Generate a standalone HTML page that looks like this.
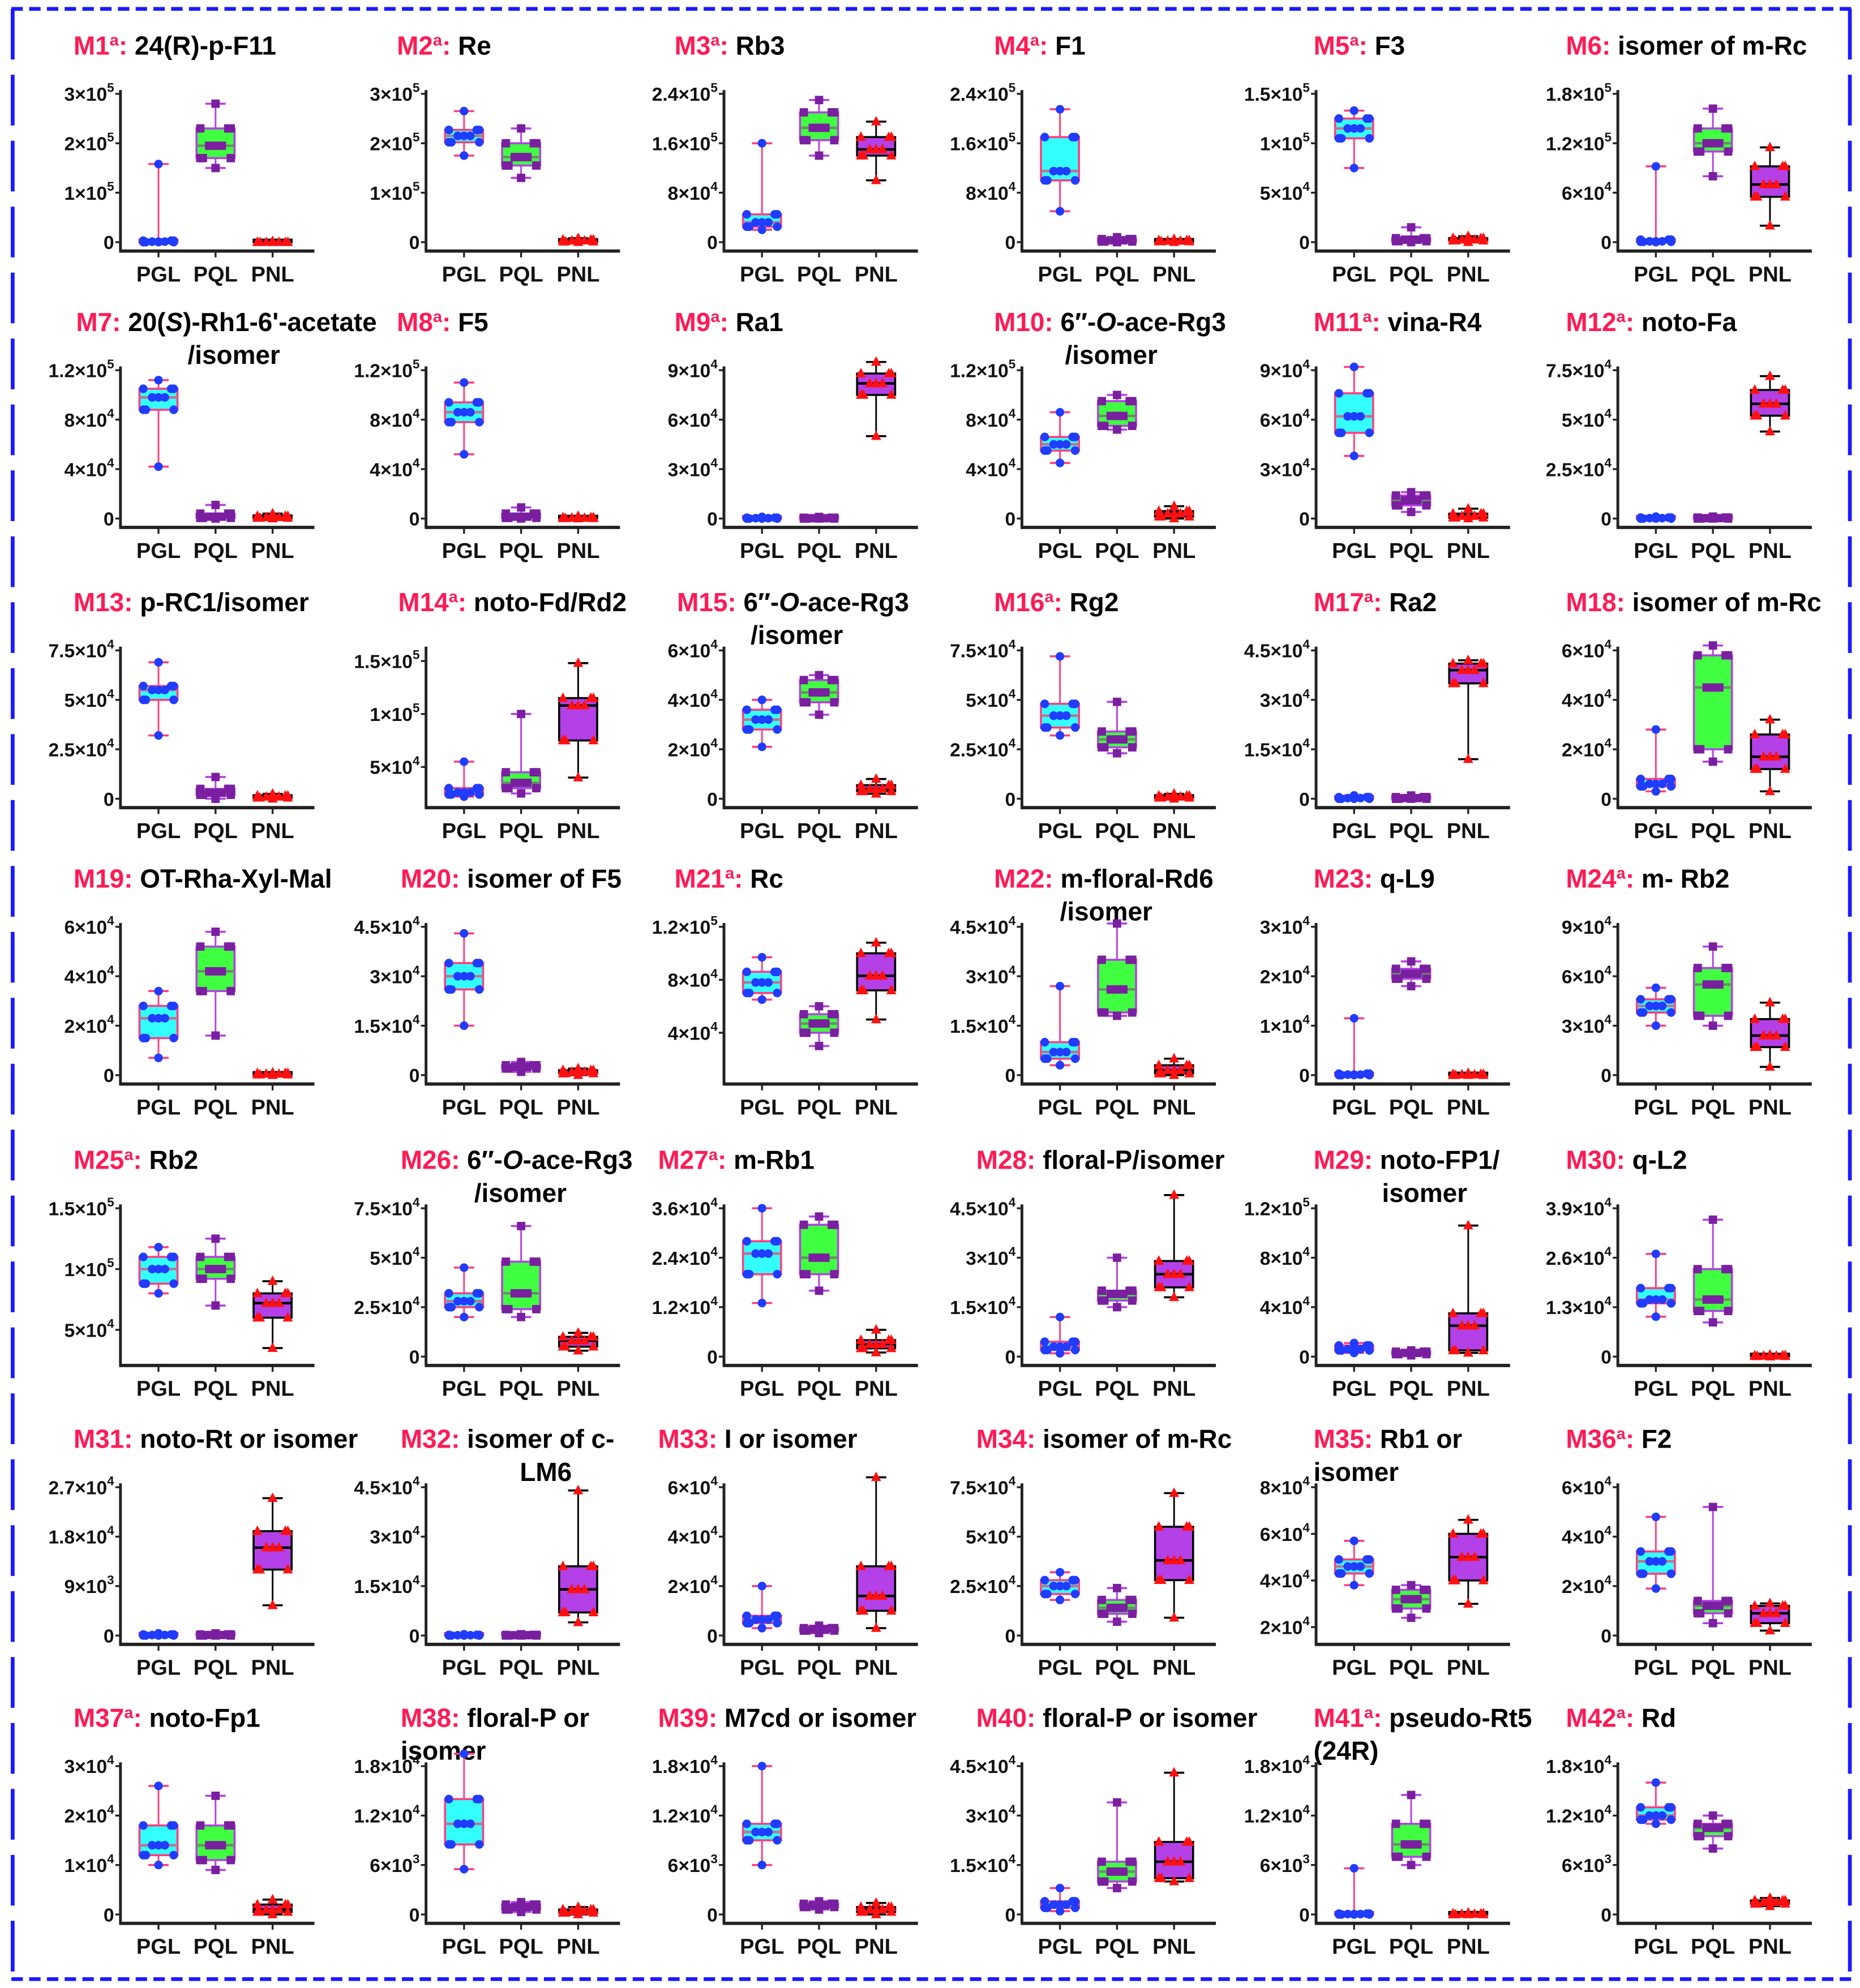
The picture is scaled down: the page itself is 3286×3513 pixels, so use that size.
<!DOCTYPE html>
<html><head><meta charset="utf-8">
<style>
html,body{margin:0;padding:0;background:#fff;}
svg{display:block;font-family:"Liberation Sans",sans-serif;}
</style></head>
<body>
<svg id="fig" xmlns="http://www.w3.org/2000/svg" width="3286" height="3513" viewBox="0 0 1467 1568" preserveAspectRatio="none">
<rect x="0" y="0" width="1467" height="1568" fill="#fff"/>
<line x1="9" y1="7" x2="1460" y2="7" stroke="#1a1aff" stroke-width="3" stroke-dasharray="9 5"/>
<line x1="9" y1="1561" x2="1460" y2="1561" stroke="#1a1aff" stroke-width="3" stroke-dasharray="9 5"/>
<line x1="10" y1="7" x2="10" y2="1561" stroke="#1a1aff" stroke-width="3" stroke-dasharray="40 12"/>
<line x1="1459" y1="7" x2="1459" y2="1561" stroke="#1a1aff" stroke-width="3" stroke-dasharray="40 12"/>
</svg>
<script>
const categories = ['PGL','PQL','PNL'];
const panelIds = ['M1','M2','M3','M4','M5','M6','M7','M8','M9','M10','M11','M12','M13','M14','M15','M16','M17','M18','M19','M20','M21','M22','M23','M24','M25','M26','M27','M28','M29','M30','M31','M32','M33','M34','M35','M36','M37','M38','M39','M40','M41','M42'];
const supA = [1,1,1,1,1,0,0,1,1,0,1,1,0,1,0,1,1,0,0,0,1,0,0,1,1,0,1,0,0,0,0,0,0,0,0,1,1,0,0,0,1,1];
const titleLine1 = ['24(R)-p-F11','Re','Rb3','F1','F3','isomer of m-Rc','20(<i>S</i>)-Rh1-6\'-acetate','F5','Ra1','6″-<i>O</i>-ace-Rg3','vina-R4','noto-Fa','p-RC1/isomer','noto-Fd/Rd2','6″-<i>O</i>-ace-Rg3','Rg2','Ra2','isomer of m-Rc','OT-Rha-Xyl-Mal','isomer of F5','Rc','m-floral-Rd6','q-L9','m- Rb2','Rb2','6″-<i>O</i>-ace-Rg3','m-Rb1','floral-P/isomer','noto-FP1/','q-L2','noto-Rt or isomer','isomer of c-','I or isomer','isomer of m-Rc','Rb1 or','F2','noto-Fp1','floral-P or','M7cd or isomer','floral-P or isomer','pseudo-Rt5','Rd'];
const titleLine2 = ['','','','','','','/isomer','','','/isomer','','','','','/isomer','','','','','','','/isomer','','','','/isomer','','','isomer','','','LM6','','','isomer','','','isomer','','','(24R)',''];
const line2X = [0,0,0,0,0,0,148,0,0,840,0,0,0,0,592,0,0,0,0,0,0,836,0,0,0,374,0,0,1090,0,0,410,0,0,1036,0,0,316,0,0,1036,0];
const panelTicks = [
[0,1e5,2e5,3e5],[0,1e5,2e5,3e5],[0,8e4,1.6e5,2.4e5],[0,8e4,1.6e5,2.4e5],[0,5e4,1e5,1.5e5],[0,6e4,1.2e5,1.8e5],
[0,4e4,8e4,1.2e5],[0,4e4,8e4,1.2e5],[0,3e4,6e4,9e4],[0,4e4,8e4,1.2e5],[0,3e4,6e4,9e4],[0,2.5e4,5e4,7.5e4],
[0,2.5e4,5e4,7.5e4],[5e4,1e5,1.5e5],[0,2e4,4e4,6e4],[0,2.5e4,5e4,7.5e4],[0,1.5e4,3e4,4.5e4],[0,2e4,4e4,6e4],
[0,2e4,4e4,6e4],[0,1.5e4,3e4,4.5e4],[4e4,8e4,1.2e5],[0,1.5e4,3e4,4.5e4],[0,1e4,2e4,3e4],[0,3e4,6e4,9e4],
[5e4,1e5,1.5e5],[0,2.5e4,5e4,7.5e4],[0,1.2e4,2.4e4,3.6e4],[0,1.5e4,3e4,4.5e4],[0,4e4,8e4,1.2e5],[0,1.3e4,2.6e4,3.9e4],
[0,9e3,1.8e4,2.7e4],[0,1.5e4,3e4,4.5e4],[0,2e4,4e4,6e4],[0,2.5e4,5e4,7.5e4],[2e4,4e4,6e4,8e4],[0,2e4,4e4,6e4],
[0,1e4,2e4,3e4],[0,6e3,1.2e4,1.8e4],[0,6e3,1.2e4,1.8e4],[0,1.5e4,3e4,4.5e4],[0,6e3,1.2e4,1.8e4],[0,6e3,1.2e4,1.8e4]];
// axis domain overrides [lo, hi] where the lowest tick is not at the axis bottom
const axisDomains = {13:[2e4,1.6e5],20:[8e3,1.2e5],24:[2.8e4,1.5e5],34:[1.64e4,8e4]};
// [min, q1, median, q3, max]
const pglStats = [
[0,0,1000,3000,1.58e5],[1.75e5,2.02e5,2.15e5,2.27e5,2.65e5],[2e4,2.5e4,3.2e4,4.5e4,1.6e5],[5e4,1e5,1.15e5,1.7e5,2.15e5],[7.5e4,1.05e5,1.15e5,1.25e5,1.33e5],[0,500,1000,3000,9.2e4],
[4.2e4,8.8e4,9.8e4,1.05e5,1.12e5],[5.2e4,7.8e4,8.6e4,9.4e4,1.1e5],[0,0,200,500,1000],[4.5e4,5.5e4,6e4,6.6e4,8.6e4],[3.8e4,5.2e4,6.2e4,7.6e4,9.2e4],[0,0,200,500,1000],
[3.2e4,5e4,5.5e4,5.7e4,6.9e4],[2.2e4,2.4e4,2.6e4,3e4,5.5e4],[2.1e4,2.8e4,3.2e4,3.6e4,4e4],[3.2e4,3.6e4,4.2e4,4.8e4,7.2e4],[0,0,200,500,1000],[3000,5000,6000,8000,2.8e4],
[7000,1.5e4,2.3e4,2.8e4,3.4e4],[1.5e4,2.6e4,3e4,3.4e4,4.3e4],[6.5e4,7e4,7.8e4,8.6e4,9.7e4],[3000,5000,7000,1e4,2.7e4],[0,0,100,300,1.15e4],[3e4,3.8e4,4.2e4,4.6e4,5.3e4],
[8e4,8.8e4,1e5,1.1e5,1.18e5],[2e4,2.5e4,2.8e4,3.2e4,4.5e4],[1.3e4,2e4,2.5e4,2.8e4,3.6e4],[1000,2000,3000,4500,1.2e4],[3000,5000,6000,9000,1.1e4],[1.05e4,1.4e4,1.5e4,1.8e4,2.7e4],
[0,0,100,200,400],[0,0,100,200,400],[3000,5000,6500,8000,2e4],[1.8e4,2.1e4,2.5e4,2.8e4,3.2e4],[3.8e4,4.3e4,4.6e4,4.9e4,5.7e4],[1.9e4,2.5e4,3e4,3.4e4,4.8e4],
[1e4,1.2e4,1.4e4,1.8e4,2.6e4],[5500,8500,1.1e4,1.4e4,1.95e4],[6000,9000,1e4,1.1e4,1.8e4],[1000,2000,3000,4000,8000],[0,0,50,100,5600],[1.1e4,1.15e4,1.2e4,1.3e4,1.6e4]];
const pqlStats = [
[1.5e5,1.7e5,1.95e5,2.3e5,2.8e5],[1.3e5,1.55e5,1.72e5,2e5,2.3e5],[1.4e5,1.65e5,1.85e5,2.1e5,2.3e5],[0,1000,3000,5000,8000],[0,1000,2500,4000,1.5e4],[8e4,1.1e5,1.2e5,1.38e5,1.62e5],
[0,500,1500,4000,1.1e4],[0,500,1500,4000,9000],[0,0,200,500,1000],[7.2e4,7.5e4,8.3e4,9.5e4,1e5],[4000,8000,1.1e4,1.4e4,1.6e4],[0,0,200,500,1000],
[0,2000,3000,5000,1.1e4],[2.5e4,3e4,3.5e4,4.5e4,1e5],[3.4e4,3.9e4,4.3e4,4.8e4,5e4],[2.3e4,2.6e4,3e4,3.4e4,4.9e4],[0,0,200,500,1000],[1.5e4,2e4,4.5e4,5.8e4,6.2e4],
[1.6e4,3.4e4,4.2e4,5.2e4,5.8e4],[1000,2000,2500,3000,4000],[3e4,4e4,4.7e4,5.4e4,6e4],[1.8e4,1.9e4,2.6e4,3.5e4,4.6e4],[1.8e4,1.95e4,2.05e4,2.15e4,2.3e4],[3e4,3.6e4,5.5e4,6.5e4,7.8e4],
[7e4,9.2e4,1e5,1.1e5,1.25e5],[2e4,2.4e4,3.2e4,4.8e4,6.6e4],[1.6e4,2e4,2.4e4,3.2e4,3.4e4],[1.5e4,1.7e4,1.9e4,2e4,3e4],[1000,2000,3000,4000,5000],[9000,1.2e4,1.5e4,2.3e4,3.6e4],
[0,0,100,200,400],[0,0,100,200,400],[1000,2000,2500,3000,4000],[7000,1.1e4,1.4e4,1.8e4,2.4e4],[2.4e4,2.8e4,3.2e4,3.6e4,3.8e4],[5000,9000,1.2e4,1.4e4,5.2e4],
[9000,1.1e4,1.4e4,1.8e4,2.4e4],[300,600,900,1200,1500],[600,900,1100,1300,1600],[8000,1e4,1.3e4,1.6e4,3.4e4],[6000,7000,8500,1.1e4,1.45e4],[8000,9500,1.05e4,1.1e4,1.2e4]];
const pnlStats = [
[0,0,0,0,2000],[0,1000,3000,5000,8000],[1e5,1.4e5,1.5e5,1.7e5,1.95e5],[0,1000,2000,3000,5000],[0,1500,2500,4000,6000],[2e4,5.5e4,7e4,9.2e4,1.15e5],
[0,500,1000,2000,4000],[0,200,500,1000,2000],[5e4,7.5e4,8.2e4,8.8e4,9.5e4],[0,1500,4000,6000,1e4],[0,500,1500,3000,6000],[4.4e4,5.2e4,5.8e4,6.5e4,7.2e4],
[0,500,1000,1500,2500],[4e4,7.5e4,1.08e5,1.15e5,1.48e5],[2000,3000,4000,5500,8000],[0,500,1000,1500,2500],[1.2e4,3.5e4,3.9e4,4.1e4,4.2e4],[3000,1.2e4,1.7e4,2.6e4,3.2e4],
[0,200,500,800,1000],[0,500,1000,1500,2000],[5e4,7.2e4,8.3e4,1e5,1.08e5],[0,500,1500,3000,5000],[0,0,100,200,400],[5000,1.7e4,2.4e4,3.4e4,4.4e4],
[3.5e4,6e4,7.2e4,8e4,9e4],[3000,5000,8000,1e4,1.2e4],[1000,2000,3000,4000,6500],[1.8e4,2.1e4,2.5e4,2.9e4,4.9e4],[3000,5000,2.5e4,3.5e4,1.06e5],[0,100,200,300,500],
[5500,1.2e4,1.6e4,1.9e4,2.5e4],[4000,7000,1.4e4,2.1e4,4.4e4],[3000,1e4,1.6e4,2.8e4,6.4e4],[9000,2.8e4,3.8e4,5.5e4,7.2e4],[3e4,4e4,5e4,6e4,6.6e4],[2000,5000,9000,1.2e4,1.3e4],
[0,500,1000,2000,3000],[0,200,400,600,900],[0,300,600,900,1400],[1e4,1.1e4,1.6e4,2.2e4,4.3e4],[0,0,50,100,200],[1000,1300,1500,1700,2000]];

// layout (not data)
const colAxisX = [95,336,571,806,1038,1276];
const rowBase = [198,416,637,855,1077,1297,1517];
const titleX = [[58,313,532,784,1036,1235],[60,313,532,784,1036,1235],[58,314,534,784,1036,1235],[58,316,532,784,1036,1235],[58,316,519,770,1036,1235],[58,316,519,770,1036,1235],[58,316,519,770,1036,1235]];
const styles = [
 {fill:'#33ffff',stroke:'#ff3d7f',med:'#c07090',pt:'#1f3cff',shape:'circle'},
 {fill:'#40ff40',stroke:'#b340e6',med:'#6c8a6c',pt:'#7a1fa0',shape:'square'},
 {fill:'#b440e8',stroke:'#000000',med:'#000000',pt:'#ff1010',shape:'tri'}];
// horizontal jitter offsets for markers (layout)
const jitter = [0,-10,0,10,0,-12,12,-5,5,-12,12];

const NS='http://www.w3.org/2000/svg';
const svg=document.getElementById('fig');
function mk(tag,attrs,parent){const e=document.createElementNS(NS,tag);for(const k in attrs)e.setAttribute(k,attrs[k]);(parent||svg).appendChild(e);return e;}
function fmtTick(v){if(v===0)return '0';const ex=Math.floor(Math.log10(v)+1e-9);let m=v/Math.pow(10,ex);m=Math.round(m*100)/100;return m+'×10<tspan dy="-7" font-size="10">'+ex+'</tspan>';}
function rich(s){return s.replace(/<i>/g,'<tspan font-style="italic">').replace(/<\/i>/g,'</tspan>');}

for(let p=0;p<42;p++){
  const r=Math.floor(p/6), c=p%6;
  const ax=colAxisX[c], base=rowBase[r];
  const ticks=panelTicks[p];
  const dom=axisDomains[p]||[ticks[0],ticks[ticks.length-1]];
  const yTop=base-124, yBot=base-7;
  const y=v=>yBot-(v-dom[0])/(dom[1]-dom[0])*(yBot-yTop);
  const g=mk('g',{});
  
  
  const t=mk('text',{x:titleX[r][c],y:base-155,'font-size':20.5,'font-weight':'bold',fill:'#000'},g);
  
  
  t.innerHTML='<tspan fill="#ff1a55">'+panelIds[p]+'</tspan>'+(supA[p]?'<tspan fill="#ff1a55" font-size="13" dy="-7">a</tspan><tspan fill="#ff1a55" dy="7">:</tspan>':'<tspan fill="#ff1a55">:</tspan>')+' '+rich(titleLine1[p]);
  if(titleLine2[p]){
    const t2=mk('text',{x:line2X[p],y:base-129,'font-size':20.5,'font-weight':'bold',fill:'#000'},g);
    
    
    t2.textContent=titleLine2[p];
  }
  const ya=mk('line',{x1:ax,y1:yTop-3,x2:ax,y2:base,stroke:'#222','stroke-width':2.2},g);
  
  
  const xa=mk('line',{x1:ax-1,y1:base,x2:ax+153,y2:base,stroke:'#222','stroke-width':2.6},g);
  
  
  ticks.forEach(v=>{
    const ty=y(v);
    const tl=mk('line',{x1:ax-4,y1:ty,x2:ax,y2:ty,stroke:'#222','stroke-width':1.5},g);
    
    
    const tx=mk('text',{x:ax-5,y:ty+5.5,'text-anchor':'end','font-size':15,'font-weight':'bold',fill:'#111'},g);
    
    
    tx.innerHTML=fmtTick(v);
  });
  const groups=[pglStats[p],pqlStats[p],pnlStats[p]];
  groups.forEach((s,k)=>{
    const cx=ax+30+45*k, st=styles[k];
    const xt=mk('line',{x1:cx,y1:base,x2:cx,y2:base+5,stroke:'#222','stroke-width':1.5},g);
    
    
    const xl=mk('text',{x:cx,y:base+24,'text-anchor':'middle','font-size':17,'font-weight':'bold',fill:'#111'},g);
    
    
    xl.textContent=categories[k];
    const bg=mk('g',{},g);
    
    
    const wl=mk('line',{x1:cx,y1:y(s[0]),x2:cx,y2:y(s[4]),stroke:st.stroke,'stroke-width':1.3},bg);
    
    
    [s[0],s[4]].forEach(v=>{
      const cap=mk('line',{x1:cx-8,y1:y(v),x2:cx+8,y2:y(v),stroke:st.stroke,'stroke-width':1.6},bg);
      
      
    });
    const top=y(s[3]), bot=y(s[1]);
    const h=Math.max(2,bot-top);
    const rc=mk('rect',{x:cx-15,y:bot-h,width:30,height:h,fill:st.fill,stroke:st.stroke,'stroke-width':1.6},bg);
    
    
    const md=mk('line',{x1:cx-15,y1:y(s[2]),x2:cx+15,y2:y(s[2]),stroke:st.med,'stroke-width':2},bg);
    
    
    const vals=[s[0],s[1],s[2],s[3],s[4],s[1],s[1],s[2],s[2],s[3],s[3]];
    vals.forEach((v,i)=>{
      const px=cx+jitter[i];
      const py=y(v);
      let m;
      if(st.shape==='circle') m=mk('circle',{cx:px,cy:py,r:3.4,fill:st.pt},bg);
      else if(st.shape==='square') m=mk('rect',{x:px-3.3,y:py-3.3,width:6.6,height:6.6,fill:st.pt},bg);
      else m=mk('polygon',{points:(px)+','+(py-4.5)+' '+(px-4)+','+(py+3)+' '+(px+4)+','+(py+3),fill:st.pt},bg);
      
      
    });
  });
}
</script>
</body></html>
